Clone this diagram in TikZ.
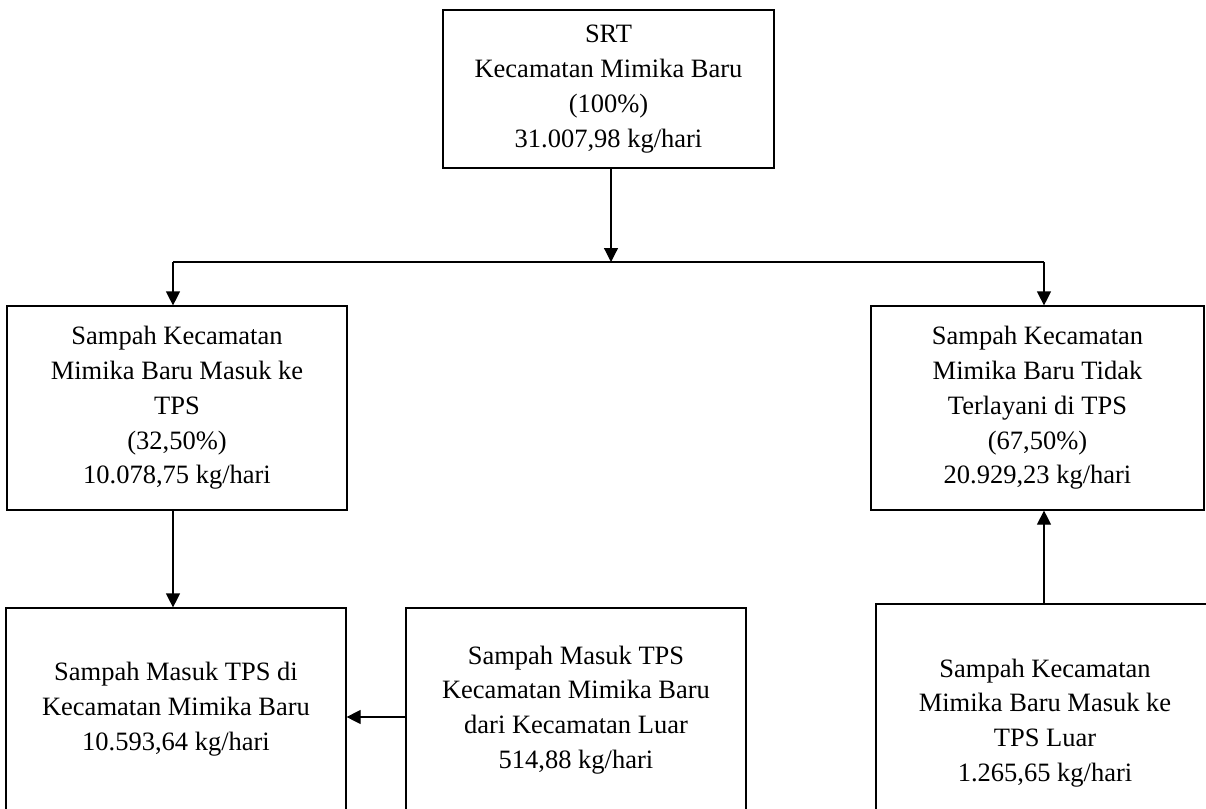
\documentclass[tikz,border=0pt]{standalone}
\usepackage{fontspec}
\setmainfont{Liberation Serif}
\usetikzlibrary{arrows.meta}
\begin{document}
\begin{tikzpicture}[x=1pt,y=-1pt,
  box/.style={draw=black, line width=1.2pt, align=center, inner sep=0pt,
              font=\fontsize{26.5}{34.8}\selectfont},
  arr/.style={line width=1.2pt, -{Triangle[length=14pt,width=14pt]}},
  link/.style={line width=1.2pt}]
  \useasboundingbox (0,0) rectangle (1206,808);

  % boxes
  \node[box, minimum width=331pt, minimum height=158pt] (top) at (608.5,89)
    {SRT\\Kecamatan Mimika Baru\\(100\%)\\31.007,98 kg/hari};
  \node[box, minimum width=340pt, minimum height=204pt] (lmid) at (177,408)
    {Sampah Kecamatan\\Mimika Baru Masuk ke\\TPS\\(32,50\%)\\10.078,75 kg/hari};
  \node[box, minimum width=333pt, minimum height=204pt] (rmid) at (1037.5,408)
    {Sampah Kecamatan\\Mimika Baru Tidak\\Terlayani di TPS\\(67,50\%)\\20.929,23 kg/hari};
  \node[box, minimum width=340pt, minimum height=202pt] (lbot) at (176,709)
    {Sampah Masuk TPS di\\Kecamatan Mimika Baru\\10.593,64 kg/hari};
  \node[box, minimum width=340pt, minimum height=204pt] (mbot) at (576,710)
    {Sampah Masuk TPS\\Kecamatan Mimika Baru\\dari Kecamatan Luar\\514,88 kg/hari};
  \node[box, minimum width=338pt, minimum height=238pt] (rbot) at (1045,723)
    {Sampah Kecamatan\\Mimika Baru Masuk ke\\TPS Luar\\1.265,65 kg/hari};

  % branching points
  \coordinate (hub) at (611,262);
  \coordinate (hl) at (173,262);
  \coordinate (hr) at (1044,262);
  \coordinate (hin) at (0,717);

  % connectors
  \draw[arr] (top.south -| hub) -- (hub);
  \draw[link] (hl) -- (hr);
  \draw[arr] (hl) -- (hl |- lmid.north);
  \draw[arr] (hr) -- (hr |- rmid.north);
  \draw[arr] (lmid.south -| hl) -- (lbot.north -| hl);
  \draw[arr] (mbot.west |- hin) -- (lbot.east |- hin);
  \draw[arr] (rbot.north -| hr) -- (rmid.south -| hr);
\end{tikzpicture}
\end{document}
